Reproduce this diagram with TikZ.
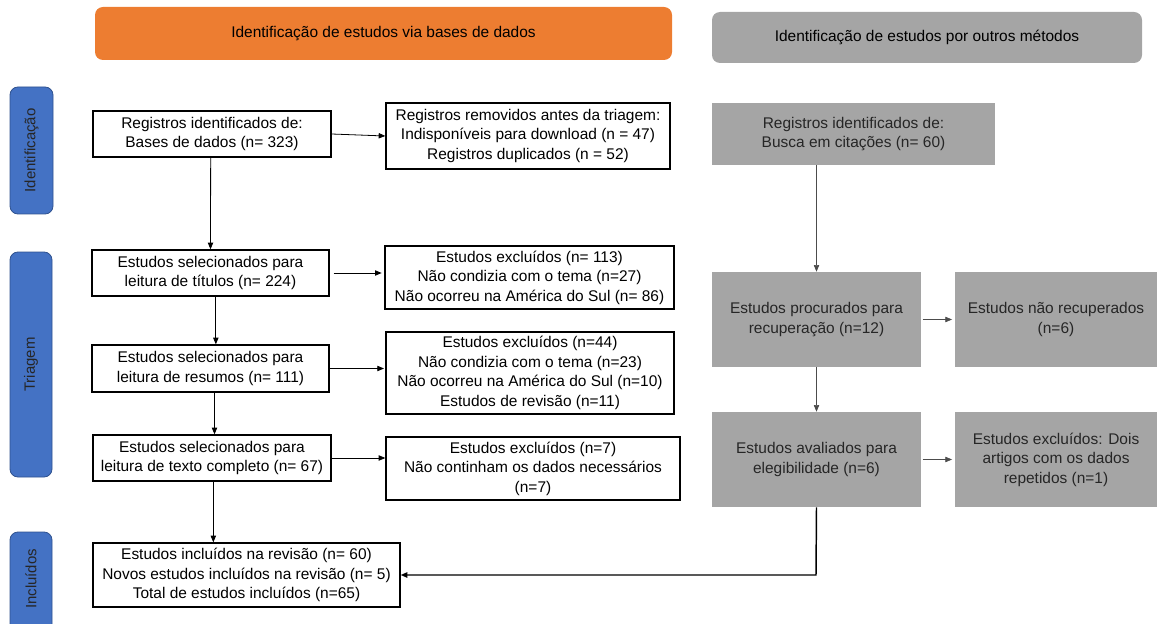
\documentclass[tikz,border=0pt]{standalone}
\usepackage{fontspec}
\setmainfont{Liberation Sans}
\usetikzlibrary{arrows.meta}
\definecolor{orangeH}{HTML}{ED7D31}
\definecolor{grayH}{HTML}{A5A5A5}
\definecolor{blueS}{HTML}{4472C4}
\definecolor{blueB}{HTML}{2F528F}
\newcommand{\rbox}[7]{%
  \node[#6, minimum width={(#4-#2)*0.75pt}, minimum height={(#5-#3)*0.75pt}]
    (#1) at ({(#2+#4)/2},{(#3+#5)/2}) {#7};}
\tikzset{
  box/.style={draw=black, line width=1pt, inner sep=0pt, align=center, font=\fontsize{11.6}{14.6}\selectfont},
  gbox/.style={fill=grayH, draw=none, inner sep=0pt, align=center, text=black!85, font=\fontsize{11.6}{14.6}\selectfont},
  hdr/.style={rounded corners=6pt, inner sep=0pt, align=center, font=\fontsize{11.6}{14}\selectfont},
  side/.style={fill=blueS, draw=blueB, line width=0.6pt, rounded corners=6pt, inner sep=0pt},
  sidetxt/.style={rotate=90, font=\fontsize{11.2}{13}\selectfont, text=black!85},
  arr/.style={-{Triangle[length=5pt,width=4pt]}, line width=0.6pt},
  garr/.style={-{Triangle[length=5pt,width=4pt]}, line width=0.5pt, draw=black!70},
}
\begin{document}
\begin{tikzpicture}[x=0.75pt,y=-0.75pt]
\useasboundingbox (0,0) rectangle (1157,624);
% headers
\rbox{h1}{95}{7}{672}{60}{hdr, fill=orangeH}{Identificação de estudos via bases de dados}
\rbox{h2}{712}{12}{1142}{63}{hdr, fill=grayH}{Identificação de estudos por outros métodos}
% side labels
\rbox{s1}{10}{87}{53}{214}{side}{}
\node[sidetxt] at (s1.center) {Identificação};
\rbox{s2}{10}{252}{52}{477}{side}{}
\node[sidetxt] at (s2.center) {Triagem};
\rbox{s3}{10}{532}{52}{640}{side}{}
\node[sidetxt] at (31,579) {Incluídos};
% left column
\rbox{b1}{93}{111}{331}{157}{box}{Registros identificados de:\\Bases de dados (n= 323)}
\rbox{r1}{386}{103}{670}{169}{box}{Registros removidos antes da triagem:\\Indisponíveis para download (n = 47)\\Registros duplicados (n = 52)}
\rbox{b2}{92}{250}{329}{296}{box}{Estudos selecionados para\\leitura de títulos (n= 224)}
\rbox{r2}{385}{246}{674}{309}{box}{Estudos excluídos (n= 113)\\Não condizia com o tema (n=27)\\Não ocorreu na América do Sul (n= 86)}
\rbox{b3}{92}{345}{329}{392}{box}{Estudos selecionados para\\leitura de resumos (n= 111)}
\rbox{r3}{386}{332}{674}{414}{box}{Estudos excluídos (n=44)\\Não condizia com o tema (n=23)\\Não ocorreu na América do Sul (n=10)\\Estudos de revisão (n=11)}
\rbox{b4}{93}{435}{331}{481}{box}{Estudos selecionados para\\leitura de texto completo (n= 67)}
\rbox{r4}{386}{437}{680}{500}{box}{Estudos excluídos (n=7)\\Não continham os dados necessários\\(n=7)}
\rbox{b5}{93}{543}{400}{607}{box}{Estudos incluídos na revisão (n= 60)\\Novos estudos incluídos na revisão (n= 5)\\Total de estudos incluídos (n=65)}
% right column
\rbox{g1}{712}{103}{995}{165}{gbox}{Registros identificados de:\\Busca em citações (n= 60)}
\rbox{g2}{712}{272}{921}{367}{gbox}{Estudos procurados para\\recuperação (n=12)}
\rbox{g3}{955}{272}{1157}{367}{gbox}{Estudos não recuperados\\(n=6)}
\rbox{g4}{712}{412}{921}{507}{gbox}{Estudos avaliados para\\elegibilidade (n=6)}
\rbox{g5}{955}{412}{1157}{507}{gbox}{Estudos excluídos: Dois\\artigos com os dados\\repetidos (n=1)}
% arrows left
\draw[arr] (b1.east) -- (r1.west);
\draw[arr] ([xshift=-1pt]b1.south) -- (b2.north);
\draw[arr] ([xshift=3pt]b2.east) -- ([xshift=-2pt]b2.east -| r2.west);
\draw[arr] ([xshift=4pt]b2.south) -- ([xshift=4pt]b3.north);
\draw[arr] (b3.east) -- ([xshift=-1pt]b3.east -| r3.west);
\draw[arr] ([xshift=3pt]b3.south) -- ([xshift=3pt]b3.south |- b4.north);
\draw[arr] (b4.east) -- (b4.east -| r4.west);
\draw[arr] ([xshift=1pt]b4.south) -- ([xshift=1pt]b4.south |- b5.north);
% arrows right
\draw[garr] (g1.south -| g2.north) -- (g2.north);
\draw[garr] ([xshift=1pt]g2.east) -- ([xshift=-2pt]g3.west);
\draw[garr] (g2.south) -- (g4.north);
\draw[garr] ([xshift=1pt]g4.east) -- ([xshift=-2pt]g5.west);
\coordinate (corner) at (816,575);
\draw[arr, line width=1.1pt] (g4.south) -- (corner) -- (corner -| b5.east);
\end{tikzpicture}
\end{document}
